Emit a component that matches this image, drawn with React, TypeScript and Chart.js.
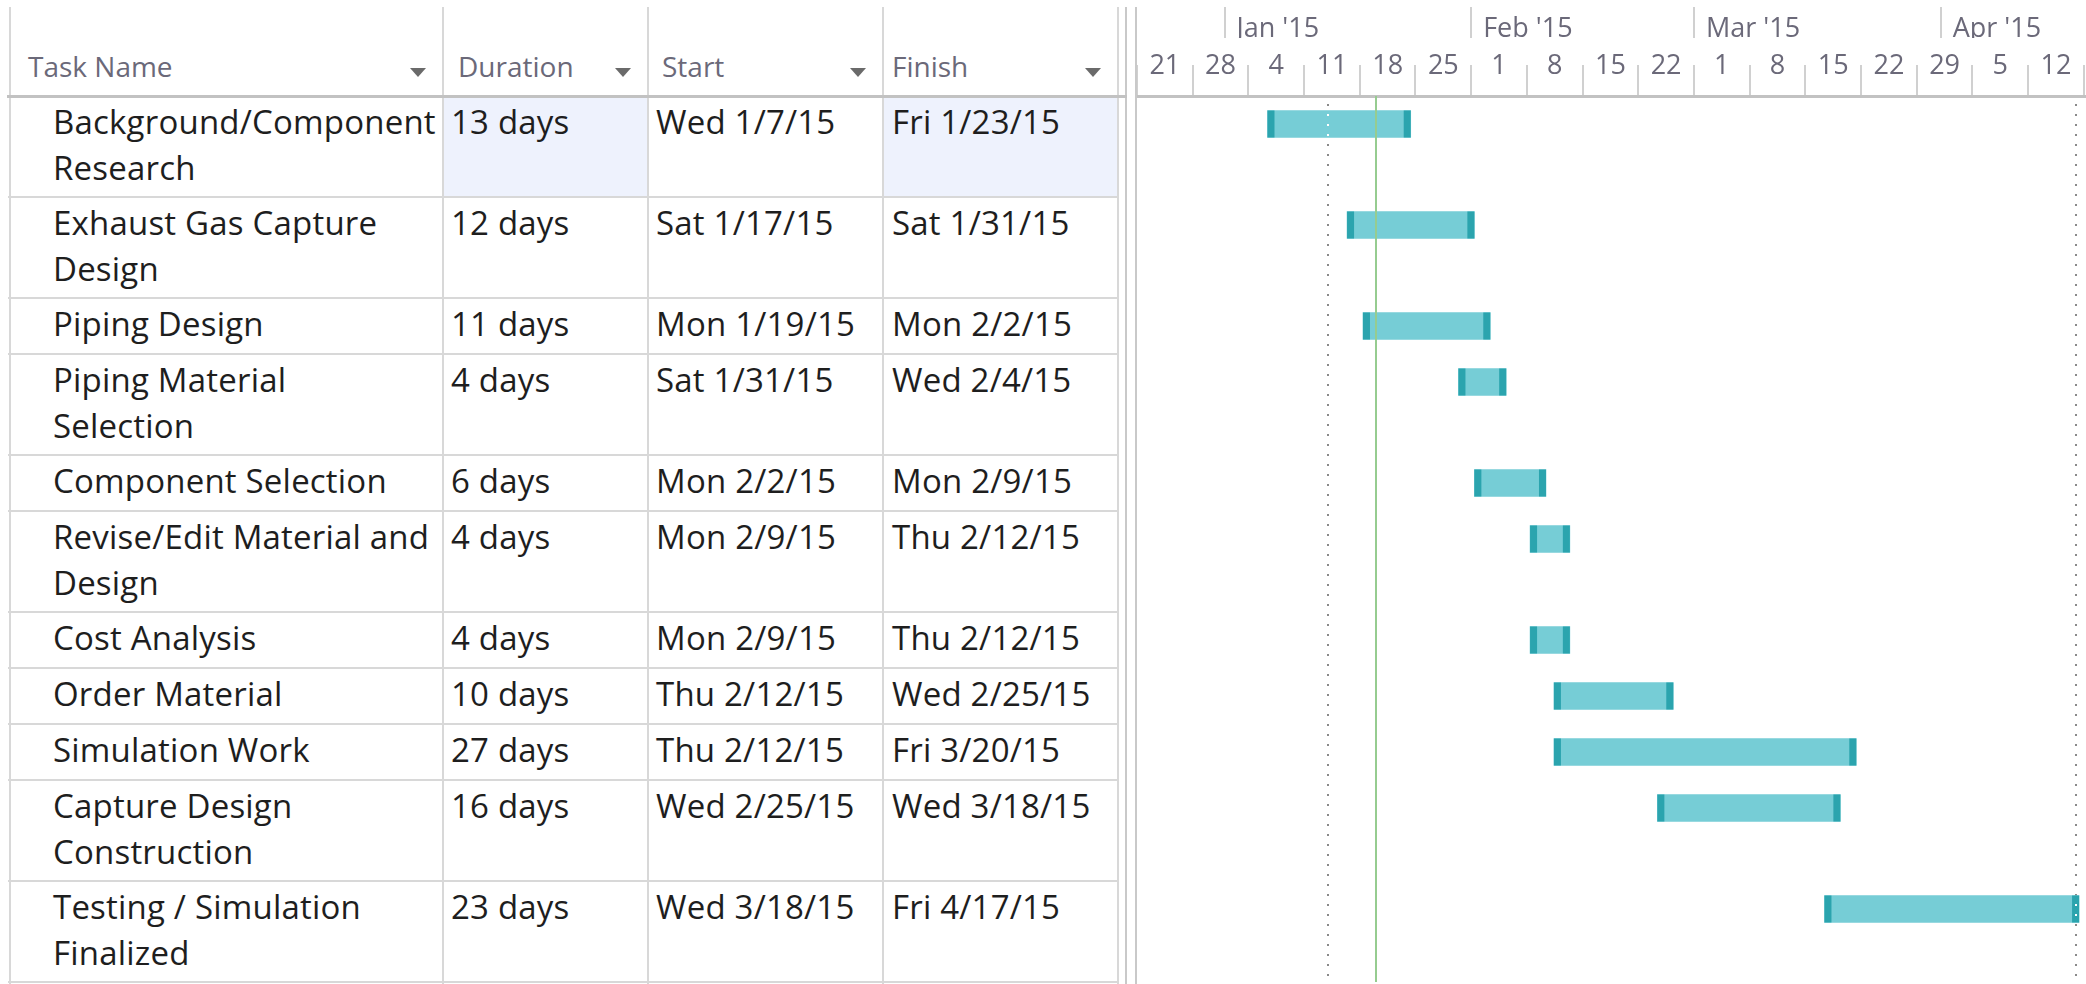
import React, { useEffect, useRef } from "react";
import { Chart, registerables } from "chart.js";

Chart.register(...registerables);

// ---------------- data ----------------
const TASK_NAMES = [
  "Background/Component\nResearch",
  "Exhaust Gas Capture\nDesign",
  "Piping Design",
  "Piping Material\nSelection",
  "Component Selection",
  "Revise/Edit Material and\nDesign",
  "Cost Analysis",
  "Order Material",
  "Simulation Work",
  "Capture Design\nConstruction",
  "Testing / Simulation\nFinalized",
];
const DURATIONS = ["13 days", "12 days", "11 days", "4 days", "6 days", "4 days", "4 days", "10 days", "27 days", "16 days", "23 days"];
const STARTS = ["Wed 1/7/15", "Sat 1/17/15", "Mon 1/19/15", "Sat 1/31/15", "Mon 2/2/15", "Mon 2/9/15", "Mon 2/9/15", "Thu 2/12/15", "Thu 2/12/15", "Wed 2/25/15", "Wed 3/18/15"];
const FINISHES = ["Fri 1/23/15", "Sat 1/31/15", "Mon 2/2/15", "Wed 2/4/15", "Mon 2/9/15", "Thu 2/12/15", "Thu 2/12/15", "Wed 2/25/15", "Fri 3/20/15", "Wed 3/18/15", "Fri 4/17/15"];
const HEADERS = ["Task Name", "Duration", "Start", "Finish"];
const HIGHLIGHT = [[0, 1], [0, 3]]; // [row, column]

const VIEW_START = "12/21/14";
const VIEW_DAYS = 119.27;
const WEEK_LABELS = ["21", "28", "4", "11", "18", "25", "1", "8", "15", "22", "1", "8", "15", "22", "29", "5", "12"];
const MONTH_LABELS = ["Jan '15", "Feb '15", "Mar '15", "Apr '15"];
const MONTH_STARTS = ["1/1/15", "2/1/15", "3/1/15", "4/1/15"];
const STATUS_DATE = "1/14/15";
const CURRENT_DATE = "1/20/15";

// ---------------- helpers ----------------
const DAY_MS = 86400000;
function parseDate(s: string): number {
  const m = s.match(/(\d+)\/(\d+)\/(\d+)/)!;
  return Date.UTC(2000 + Number(m[3]), Number(m[1]) - 1, Number(m[2]));
}
function dayIndex(s: string): number {
  return (parseDate(s) - parseDate(VIEW_START)) / DAY_MS;
}

// ---------------- layout / style ----------------
const FONT = '"Open Sans", "Noto Sans", sans-serif';
const HEADER_H = 96;
const ROW_H = 56;
const EXTRA_LINE_H = 45;
const COL_X = [10, 443, 648, 883, 1118];
const TEXT_PAD = [43, 8, 8, 9];
const HEAD_PAD = [18, 15, 14, 9];
const GANTT_LEFT = 1137;
const GANTT_W = 2086 - GANTT_LEFT;
const GRID = "#d8d8d8";
const HEAD_COLOR = "#6b6979";
const BAR_FILL = "#76cdd6";
const BAR_CAP = "#2ba4ae";
const BAR_PAD_START = 0.6;
const BAR_PAD_END = 0.4;

const lineCounts = TASK_NAMES.map((n) => n.split("\n").length);
const rowHeights = lineCounts.map((c) => ROW_H + EXTRA_LINE_H * (c - 1));
const rowTops: number[] = [];
rowHeights.reduce((acc, h) => {
  rowTops.push(acc);
  return acc + h;
}, 0);
const TOTAL_H = rowHeights.reduce((a, b) => a + b, 0);

function GanttChart() {
  const ref = useRef<HTMLCanvasElement>(null);
  useEffect(() => {
    const canvas = ref.current!;
    const finishLine = Math.max(...FINISHES.map((f) => dayIndex(f) + 1));
    const dotted = [dayIndex(STATUS_DATE), finishLine];
    const current = dayIndex(CURRENT_DATE);

    const ganttPlugin = {
      id: "ganttDecor",
      beforeDatasetsDraw(chart: any) {
        const { ctx, chartArea, scales } = chart;
        ctx.save();
        ctx.beginPath();
        ctx.rect(chartArea.left, chartArea.top, chartArea.right - chartArea.left, chartArea.bottom - chartArea.top);
        ctx.clip();
        ctx.strokeStyle = "#8a8a8a";
        ctx.lineWidth = 2;
        ctx.setLineDash([2, 8]);
        for (const d of dotted) {
          const px = Math.round(scales.x.getPixelForValue(d));
          ctx.beginPath();
          ctx.moveTo(px, chartArea.top + 8);
          ctx.lineTo(px, chartArea.bottom);
          ctx.stroke();
        }
        ctx.restore();
      },
      afterDatasetsDraw(chart: any) {
        const { ctx, chartArea, scales } = chart;
        const meta = chart.getDatasetMeta(0);
        ctx.save();
        ctx.beginPath();
        ctx.rect(chartArea.left, chartArea.top, chartArea.right - chartArea.left, chartArea.bottom - chartArea.top);
        ctx.clip();
        const capW = 7;
        const bars = meta.data.map((el: any) => el.getProps(["x", "base", "y", "height"], true));
        ctx.fillStyle = BAR_CAP;
        for (const b of bars) {
          const left = Math.min(b.x, b.base);
          const right = Math.max(b.x, b.base);
          const top = b.y - b.height / 2;
          ctx.fillRect(left, top, capW, b.height);
          ctx.fillRect(right - capW, top, capW, b.height);
        }
        // dotted lines appear white over the bars
        ctx.strokeStyle = "#ffffff";
        ctx.lineWidth = 2;
        ctx.setLineDash([2, 8]);
        for (const d of dotted) {
          const px = Math.round(scales.x.getPixelForValue(d));
          for (const b of bars) {
            const left = Math.min(b.x, b.base);
            const right = Math.max(b.x, b.base);
            if (px > left && px < right) {
              ctx.save();
              ctx.beginPath();
              ctx.rect(left, b.y - b.height / 2 + 1, right - left, b.height - 2);
              ctx.clip();
              ctx.beginPath();
              ctx.moveTo(px, chartArea.top + 8);
              ctx.lineTo(px, b.y + b.height / 2);
              ctx.stroke();
              ctx.restore();
            }
          }
        }
        ctx.setLineDash([]);
        const gx = Math.round(scales.x.getPixelForValue(current));
        ctx.strokeStyle = "#96cc90";
        ctx.lineWidth = 2;
        ctx.beginPath();
        ctx.moveTo(gx, chartArea.top);
        ctx.lineTo(gx, chartArea.bottom);
        ctx.stroke();
        ctx.restore();
      },
    };

    const barData = STARTS.map((s, i) => ({
      x: [dayIndex(s) - BAR_PAD_START, dayIndex(FINISHES[i]) + 1 + BAR_PAD_END],
      y: rowTops[i] + ROW_H / 2,
    }));

    const chart = new Chart(canvas, {
      type: "bar",
      data: {
        datasets: [
          {
            data: barData as any,
            backgroundColor: BAR_FILL,
            borderWidth: 0,
            barThickness: 27,
            xAxisID: "x",
            yAxisID: "y",
          },
        ],
      },
      options: {
        indexAxis: "y",
        animation: false,
        responsive: false,
        events: [],
        layout: { padding: { left: 0, right: 0, top: 0, bottom: 984 - HEADER_H - TOTAL_H } },
        plugins: { legend: { display: false }, tooltip: { enabled: false }, title: { display: false } },
        scales: {
          x: {
            type: "linear",
            position: "top",
            min: 0,
            max: VIEW_DAYS,
            offset: false,
            weight: 0,
            afterBuildTicks: (s: any) => {
              s.ticks = WEEK_LABELS.map((_, i) => ({ value: 3.5 + 7 * i }));
            },
            afterFit: (s: any) => {
              s.height = 58;
            },
            ticks: {
              autoSkip: false,
              maxRotation: 0,
              minRotation: 0,
              padding: -18,
              color: HEAD_COLOR,
              font: { family: FONT, size: 27 },
              callback: (_v: any, i: number) => WEEK_LABELS[i],
            },
            grid: {
              display: true,
              offset: true,
              drawOnChartArea: false,
              drawTicks: true,
              tickLength: 31,
              color: "#d0d0d0",
              lineWidth: 2,
            },
            border: { display: true, color: "#c2c2c2", width: 3 },
          } as any,
          xm: {
            type: "linear",
            position: "top",
            min: 0,
            max: VIEW_DAYS,
            offset: false,
            weight: 10,
            afterBuildTicks: (s: any) => {
              s.ticks = MONTH_STARTS.map((d) => ({ value: dayIndex(d) }));
            },
            afterFit: (s: any) => {
              s.height = HEADER_H - 58;
            },
            ticks: {
              autoSkip: false,
              maxRotation: 0,
              minRotation: 0,
              align: "start",
              labelOffset: 12,
              padding: -39,
              color: HEAD_COLOR,
              font: { family: FONT, size: 27 },
              callback: (_v: any, i: number) => MONTH_LABELS[i],
            },
            grid: {
              display: true,
              drawOnChartArea: false,
              drawTicks: true,
              tickLength: 31,
              color: "#d0d0d0",
              lineWidth: 2,
            },
            border: { display: false },
          } as any,
          y: {
            type: "linear",
            display: false,
            offset: false,
            min: 0,
            max: TOTAL_H,
            reverse: true,
            grid: { offset: false },
          } as any,
        },
      },
      plugins: [ganttPlugin],
    });
    return () => chart.destroy();
  }, []);
  return <canvas ref={ref} width={GANTT_W} height={984} style={{ display: "block", width: GANTT_W, height: 984 }} />;
}

export default function App() {
  const cells: React.ReactNode[] = [];
  const lines: React.ReactNode[] = [];

  // header labels and dropdown arrows
  HEADERS.forEach((h, c) => {
    cells.push(
      <div
        key={"h" + c}
        style={{
          position: "absolute",
          left: COL_X[c] + HEAD_PAD[c],
          top: 47,
          fontSize: 28,
          lineHeight: "normal",
          color: HEAD_COLOR,
          whiteSpace: "nowrap",
        }}
      >
        {h}
      </div>
    );
    cells.push(
      <div
        key={"t" + c}
        style={{
          position: "absolute",
          left: COL_X[c + 1] - 16 - 17,
          top: 68,
          width: 0,
          height: 0,
          borderLeft: "8.5px solid transparent",
          borderRight: "8.5px solid transparent",
          borderTop: "9px solid #6a6a6a",
        }}
      />
    );
  });

  // highlighted cells
  HIGHLIGHT.forEach(([r, c], k) => {
    cells.push(
      <div
        key={"hl" + k}
        style={{
          position: "absolute",
          left: COL_X[c],
          top: HEADER_H + rowTops[r],
          width: COL_X[c + 1] - COL_X[c],
          height: rowHeights[r],
          background: "#eef2fd",
        }}
      />
    );
  });

  // body text
  const columns = [TASK_NAMES, DURATIONS, STARTS, FINISHES];
  columns.forEach((col, c) => {
    col.forEach((txt, r) => {
      cells.push(
        <div
          key={`c${c}-${r}`}
          style={{
            position: "absolute",
            left: COL_X[c] + TEXT_PAD[c],
            top: HEADER_H + rowTops[r] + 3,
            fontSize: 33,
            letterSpacing: "0.2px",
            lineHeight: "46px",
            color: "#1e1e1e",
            whiteSpace: "pre",
          }}
        >
          {txt}
        </div>
      );
    });
  });

  // vertical grid lines of the table
  COL_X.forEach((x, i) => {
    lines.push(
      <div key={"v" + i} style={{ position: "absolute", left: x - 1, top: 7, width: 2, height: 984 - 7, background: GRID }} />
    );
  });
  // split bar
  [1126, 1136].forEach((x, i) => {
    lines.push(
      <div key={"s" + i} style={{ position: "absolute", left: x - 1, top: 7, width: 2, height: 984 - 7, background: "#c9c9c9" }} />
    );
  });
  // horizontal row lines
  rowTops.forEach((t, r) => {
    lines.push(
      <div
        key={"r" + r}
        style={{
          position: "absolute",
          left: 8,
          top: HEADER_H + t + rowHeights[r] - 1,
          width: COL_X[4] - 8,
          height: 2,
          background: GRID,
        }}
      />
    );
  });
  // header bottom line
  lines.push(
    <div key="hb" style={{ position: "absolute", left: 7, top: HEADER_H - 1, width: 1127 - 7, height: 3, background: "#c2c2c2" }} />
  );

  return (
    <div
      style={{
        position: "absolute",
        left: 0,
        top: 0,
        width: 2086,
        height: 984,
        overflow: "hidden",
        background: "#ffffff",
        fontFamily: FONT,
      }}
    >
      {cells}
      {lines}
      <div style={{ position: "absolute", left: GANTT_LEFT, top: 0, width: GANTT_W, height: 984 }}>
        <GanttChart />
      </div>
    </div>
  );
}
